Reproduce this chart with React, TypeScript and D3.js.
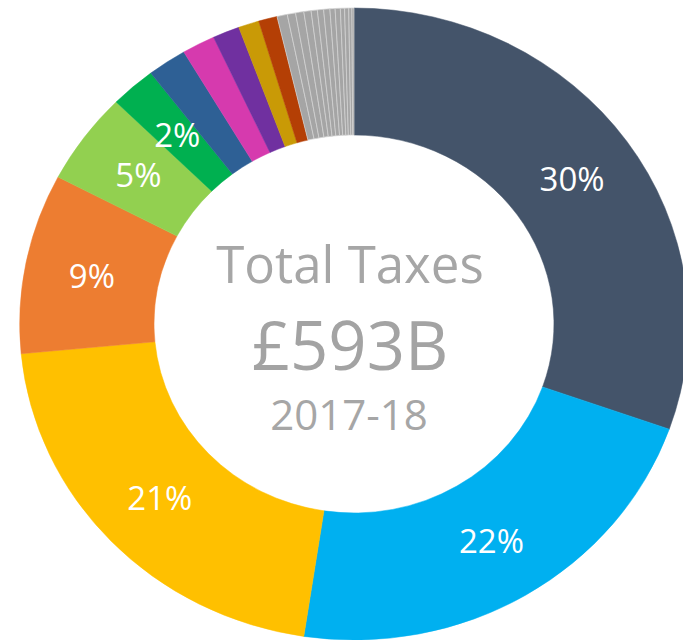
import React from "react";
import * as d3 from "d3";

// Shares of total UK taxes, 2017-18 (percent, clockwise from 12 o'clock)
const categories = [
  "Income Tax",
  "National Insurance",
  "VAT",
  "Other",
  "Corporation Tax",
  "Council Tax",
  "Business Rates",
  "Fuel Duty",
  "Stamp Duty",
  "Tobacco",
  "Alcohol",
  "Misc 1",
  "Misc 2",
  "Misc 3",
  "Misc 4",
  "Misc 5",
  "Misc 6",
  "Misc 7",
  "Misc 8",
  "Misc 9",
  "Misc 10",
  "Misc 11",
  "Misc 12",
  "Misc 13",
];
const values = [
  30.4, 22.0, 21.1, 9.2, 4.7, 2.2, 1.9, 1.6, 1.3, 1.0, 0.9,
  0.5, 0.4, 0.4, 0.35, 0.3, 0.3, 0.3, 0.25, 0.25, 0.2, 0.2, 0.15, 0.1,
];
const labels = ["30%", "22%", "21%", "9%", "5%", "2%"];
const mainColors = [
  "#44546A",
  "#00B0F0",
  "#FFC000",
  "#ED7D31",
  "#92D050",
  "#00B050",
  "#2E6095",
  "#D63AAE",
  "#7030A0",
  "#C99A06",
  "#B43F05",
];
const otherColor = "#A5A5A5";
const centerLines = ["Total Taxes", "£593B", "2017-18"];

export default function App() {
  const W = 683;
  const H = 640;
  const cx = 354;
  const cy = 324;
  const sx = 1.058;
  const outerR = 316;
  const innerR = 189;

  const pie = d3
    .pie<number>()
    .sort(null)
    .value((d) => d)
    .startAngle(0)
    .endAngle(2 * Math.PI);
  const arcs = pie(values);
  const arc = d3
    .arc<d3.PieArcDatum<number>>()
    .innerRadius(innerR)
    .outerRadius(outerR);

  const font = "'Open Sans', 'Noto Sans', sans-serif";

  return (
    <svg
      width={W}
      height={H}
      style={{ position: "absolute", left: 0, top: 0, display: "block", background: "#fff" }}
    >
      <g transform={`translate(${cx},${cy}) scale(${sx},1)`}>
        {arcs.map((a, i) => {
          const isOther = i >= mainColors.length;
          const fill = isOther ? otherColor : mainColors[i];
          return (
            <path
              key={categories[i]}
              d={arc(a) || ""}
              fill={fill}
              stroke={isOther ? "#d4d4d4" : fill}
              strokeWidth={isOther ? 0.7 : 0.5}
            />
          );
        })}
      </g>
      {labels.map((t, i) => {
        const c = arc.centroid(arcs[i]);
        return (
          <text
            key={t + i}
            x={cx + c[0] * sx}
            y={cy + c[1]}
            textAnchor="middle"
            dominantBaseline="central"
            fill="#ffffff"
            fontFamily={font}
            fontSize={33}
          >
            {t}
          </text>
        );
      })}
      <text
        x={cx - 4}
        y={283}
        textAnchor="middle"
        fill="#A6A6A6"
        fontFamily={font}
        fontSize={51}
      >
        {centerLines[0]}
      </text>
      <text
        x={cx - 4}
        y={370}
        textAnchor="middle"
        fill="#A3A3A3"
        fontFamily={font}
        fontSize={67}
      >
        {centerLines[1]}
      </text>
      <text
        x={cx - 5}
        y={430}
        textAnchor="middle"
        fill="#A6A6A6"
        fontFamily={font}
        fontSize={42}
      >
        {centerLines[2]}
      </text>
    </svg>
  );
}
